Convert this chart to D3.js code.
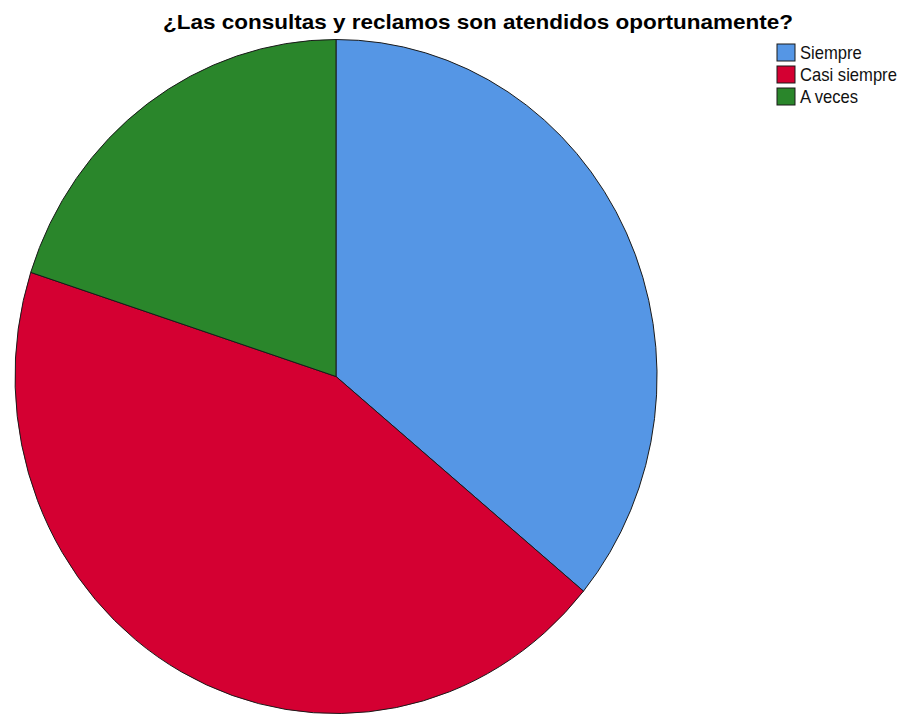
<!DOCTYPE html>
<html><head><meta charset="utf-8">
<script src="https://cdn.jsdelivr.net/npm/d3@7"></script>
<style>body{margin:0;background:#fff}</style>
</head><body>
<svg id="c" width="909" height="716"></svg>
<script>
const title = "¿Las consultas y reclamos son atendidos oportunamente?";
const categories = ["Siempre", "Casi siempre", "A veces"];
const values = [36, 44, 20];
const colors = ["#5596e5", "#d40032", "#2a862b"];

const svg = d3.select("#c");
const cx = 336, cy = 376.5, rx = 321, ry = 337;

const pie = d3.pie().sort(null).value(d => d.v);
const arcs = pie(categories.map((c, i) => ({c, v: values[i], col: colors[i]})));
const arc = d3.arc().innerRadius(0).outerRadius(1);

const g = svg.append("g").attr("transform", `translate(${cx},${cy}) scale(${rx},${ry})`);
g.selectAll("path").data(arcs).join("path")
  .attr("d", arc)
  .attr("fill", d => d.data.col)
  .attr("stroke", "#1a1a1a")
  .attr("stroke-width", 1)
  .attr("vector-effect", "non-scaling-stroke");

svg.append("text")
  .attr("x", 478).attr("y", 29)
  .attr("text-anchor", "middle")
  .attr("font-family", "Liberation Sans, Arial, sans-serif")
  .attr("font-weight", "bold")
  .attr("font-size", 21)
  .attr("textLength", 630)
  .attr("lengthAdjust", "spacingAndGlyphs")
  .attr("fill", "#000")
  .text(title);

const leg = svg.append("g").attr("transform", "translate(777,44)");
const rows = leg.selectAll("g").data(categories).join("g")
  .attr("transform", (d, i) => `translate(0,${i * 22})`);
rows.append("rect").attr("width", 18).attr("height", 17)
  .attr("fill", (d, i) => colors[i]).attr("stroke", "#1a1a1a").attr("stroke-width", 1);
rows.append("text")
  .attr("transform", "translate(23,14.5) scale(0.95,1)")
  .attr("font-family", "Liberation Sans, Arial, sans-serif")
  .attr("font-size", 17.5).attr("fill", "#111")
  .text(d => d);
</script>
</body></html>
